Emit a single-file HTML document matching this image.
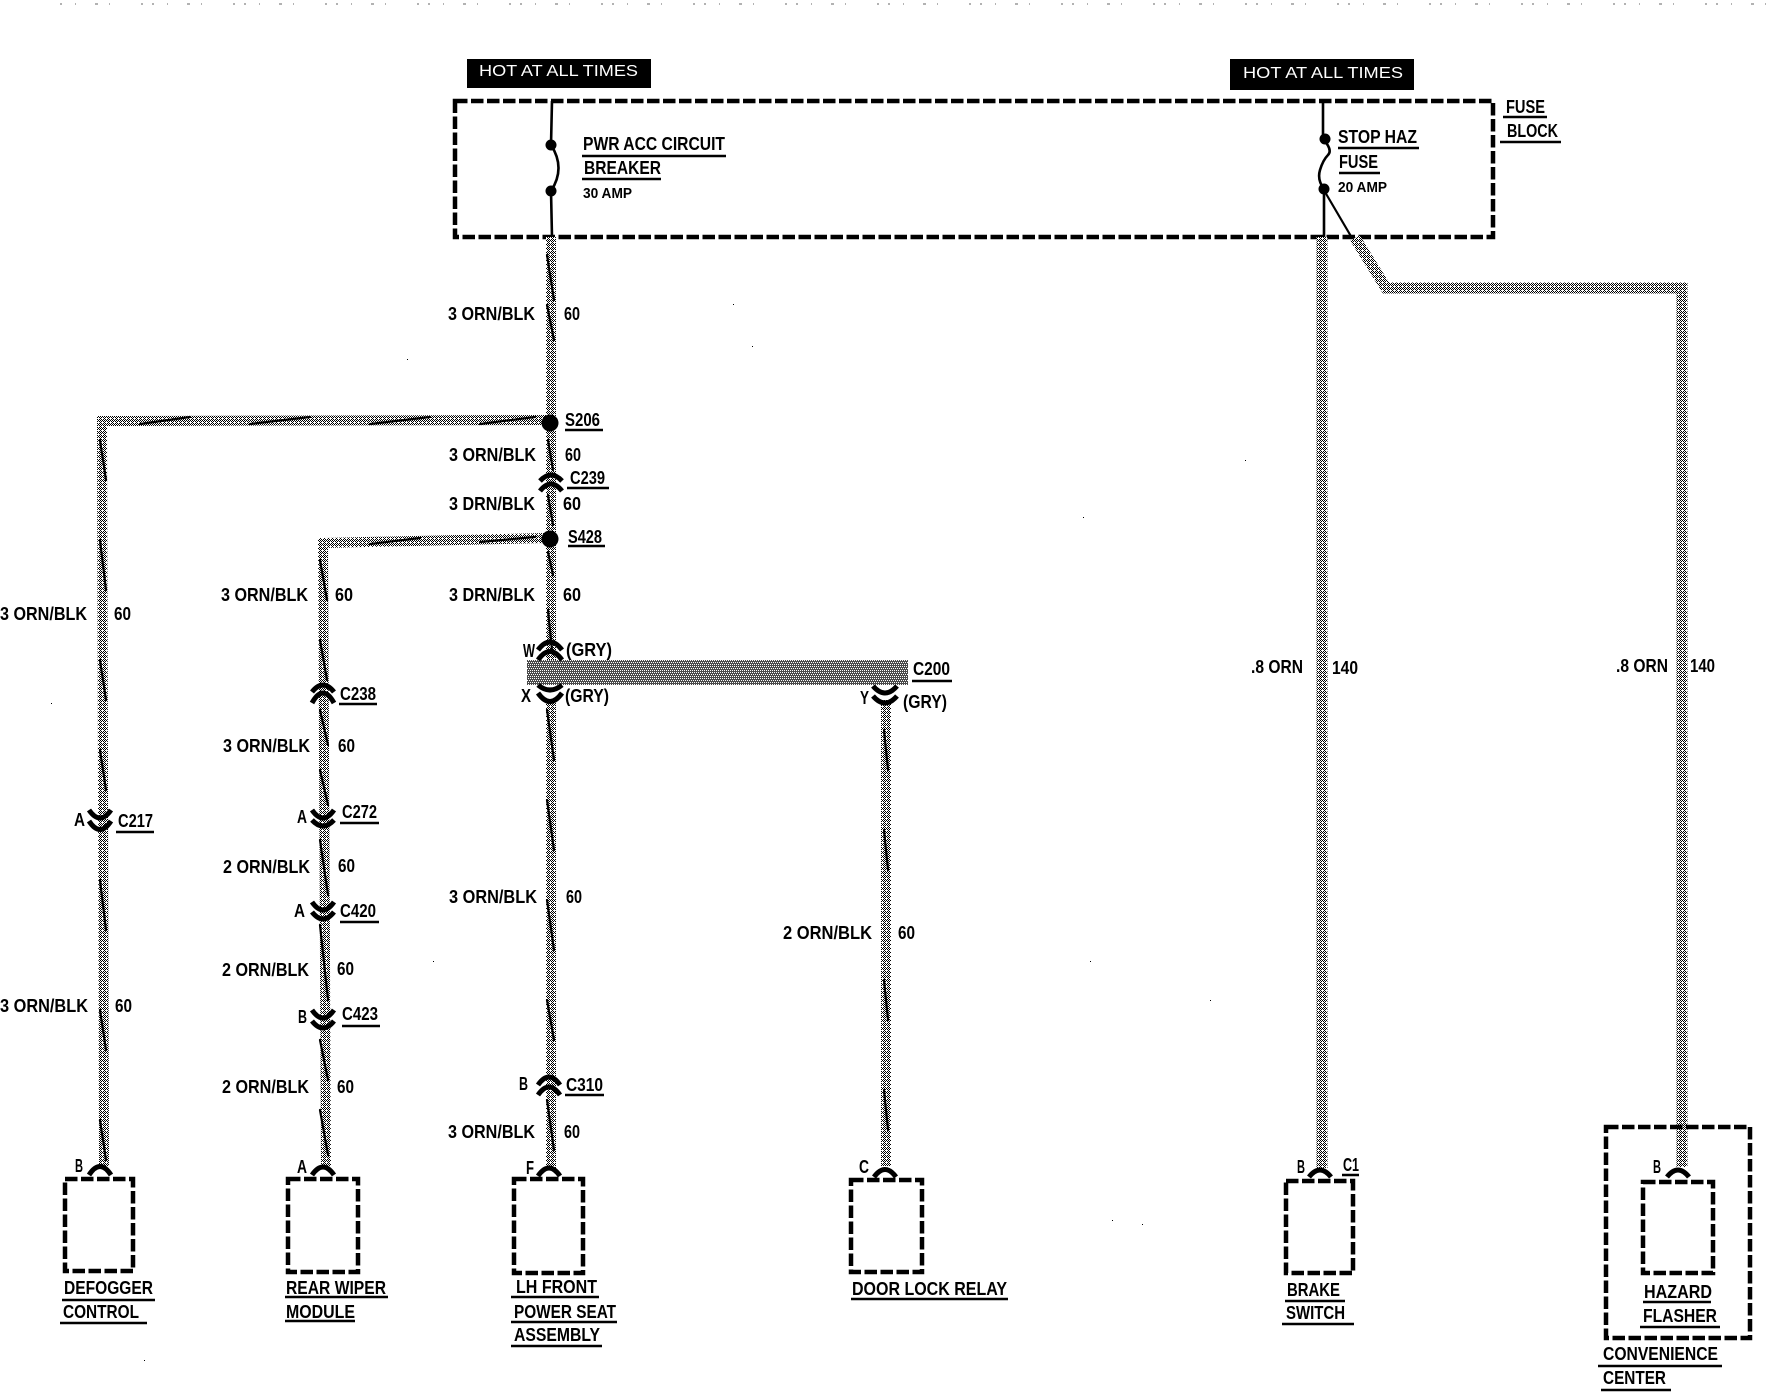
<!DOCTYPE html>
<html><head><meta charset="utf-8"><title>Wiring diagram</title>
<style>
html,body{margin:0;padding:0;background:#fff;width:1774px;height:1392px;overflow:hidden}
svg{display:block}
text{font-family:"Liberation Sans",sans-serif;font-weight:bold;font-size:18px;fill:#000}
.s{font-size:14.5px}
.w{fill:#fff;font-weight:normal;font-size:16px}
.u{stroke:#000;stroke-width:2.6;fill:none}
.a{stroke:#000;stroke-width:5;fill:none}
.b{stroke:#000;stroke-width:4.5;fill:none;stroke-dasharray:12.5 3.5}
.wire{stroke:url(#d);fill:none;stroke-width:10}
.st{stroke:#000;fill:none;stroke-width:2.2;stroke-linecap:round}
</style></head><body>
<svg width="1774" height="1392" viewBox="0 0 1774 1392" xmlns="http://www.w3.org/2000/svg">
<defs>
<pattern id="d" width="4" height="4" patternUnits="userSpaceOnUse">
<rect width="4" height="4" fill="#fff"/>
<rect x="0" y="0" width="1" height="1" fill="#000"/><rect x="2" y="0" width="1" height="1" fill="#000"/>
<rect x="1" y="1" width="1" height="1" fill="#000"/><rect x="3" y="1" width="1" height="1" fill="#000"/>
<rect x="0" y="2" width="1" height="1" fill="#000"/>
<rect x="1" y="3" width="1" height="1" fill="#000"/><rect x="3" y="3" width="1" height="1" fill="#000"/>
</pattern>
<pattern id="e" width="6" height="6" patternUnits="userSpaceOnUse">
<rect width="6" height="6" fill="#4a4a4a"/>
<rect x="0" y="0" width="1" height="1" fill="#fff"/><rect x="2" y="0" width="1" height="1" fill="#fff"/><rect x="4" y="0" width="1" height="1" fill="#fff"/>
<rect x="1" y="2" width="1" height="1" fill="#fff"/><rect x="3" y="2" width="1" height="1" fill="#fff"/><rect x="5" y="2" width="1" height="1" fill="#fff"/>
<rect x="0" y="4" width="1" height="1" fill="#fff"/><rect x="2" y="4" width="1" height="1" fill="#fff"/><rect x="4" y="4" width="1" height="1" fill="#fff"/>
</pattern>
</defs>

<!-- top scan noise -->
<path d="M60 4H1770" stroke="#666" stroke-width="1" stroke-dasharray="2 13 1 19 3 11 1 31 2 9" fill="none"/>

<!-- hot boxes -->
<rect x="467" y="59" width="184" height="29" fill="#000"/>
<text class="w" x="479" y="76" textLength="159" lengthAdjust="spacingAndGlyphs">HOT AT ALL TIMES</text>
<rect x="1230" y="59" width="184" height="31" fill="#000"/>
<text class="w" x="1243" y="78" textLength="160" lengthAdjust="spacingAndGlyphs">HOT AT ALL TIMES</text>

<!-- fuse block -->
<rect class="b" x="455" y="101" width="1038" height="136"/>
<path d="M552 101L551 145Q566 168 551 191L552 237" stroke="#000" stroke-width="2.6" fill="none"/>
<circle cx="551" cy="145" r="5.5"/><circle cx="551" cy="191" r="5.5"/>
<path d="M1323 101V139Q1333 150 1328 155T1320 170T1324 189V237" stroke="#000" stroke-width="2.6" fill="none"/>
<circle cx="1325" cy="139" r="5.5"/><circle cx="1324" cy="189" r="5.5"/>
<path d="M1325 192L1352 238" stroke="#000" stroke-width="2.2" fill="none"/>

<text x="583" y="150" textLength="142" lengthAdjust="spacingAndGlyphs">PWR ACC CIRCUIT</text>
<path class="u" d="M582 156H726"/>
<text x="584" y="174" textLength="77" lengthAdjust="spacingAndGlyphs">BREAKER</text>
<path class="u" d="M582 179H661"/>
<text class="s" x="583" y="198" textLength="49" lengthAdjust="spacingAndGlyphs">30 AMP</text>

<text x="1338" y="143" textLength="79" lengthAdjust="spacingAndGlyphs">STOP HAZ</text>
<path class="u" d="M1338 148H1419"/>
<text x="1339" y="168" textLength="39" lengthAdjust="spacingAndGlyphs">FUSE</text>
<path class="u" d="M1339 173H1380"/>
<text class="s" x="1338" y="192" textLength="49" lengthAdjust="spacingAndGlyphs">20 AMP</text>

<text x="1506" y="113" textLength="39" lengthAdjust="spacingAndGlyphs">FUSE</text>
<path class="u" d="M1503 117H1547"/>
<text x="1507" y="137" textLength="51" lengthAdjust="spacingAndGlyphs">BLOCK</text>
<path class="u" d="M1500 142H1561"/>

<!-- wires -->
<g class="wire">
<path d="M551 237V420"/>
<path d="M546 420L102 421L104 1166"/>
<path d="M551 430V540"/>
<path d="M546 538L323 543L326 1166"/>
<path d="M551 545V660"/>
<path d="M551 700V1168"/>
<path d="M886 700V1166"/>
<path d="M1322 237V1168" stroke-width="11"/>
<path d="M1355 238L1386 288H1682V1167" stroke-width="11"/>
</g>
<g class="st">
<path d="M547 255L554 300M547 305L554 340"/>
<path d="M548 440L553 470M548 495L553 525"/>
<path d="M548 552L553 575M548 610L552 650"/>
<path d="M547 710L554 760M547 800L554 850M547 900L554 950M547 1000L554 1040M547 1100L554 1150"/>
<path d="M100 440L106 480M100 540L106 590M100 660L106 700M100 750L106 790M100 880L106 930M100 1010L106 1050M100 1120L106 1160"/>
<path d="M320 560L327 600M320 640L327 680M320 710L328 745M320 770L328 805M320 840L328 895M320 925L328 1000M320 1040L328 1080M320 1110L328 1155"/>
<path d="M884 730L888 770M884 830L888 870M884 980L888 1020M884 1090L888 1130"/>
<path d="M535 417L480 424M430 417L370 424M310 417L250 424M190 417L140 424"/>
<path d="M535 537L480 542M420 538L370 544"/>
</g>
<rect x="527" y="660" width="381" height="25" fill="url(#e)"/>

<!-- splices -->
<circle cx="550" cy="423" r="8.5"/>
<circle cx="550" cy="539" r="8.5"/>
<text x="565" y="426" textLength="35" lengthAdjust="spacingAndGlyphs">S206</text>
<path class="u" d="M565 430H603"/>
<text x="568" y="543" textLength="34" lengthAdjust="spacingAndGlyphs">S428</text>
<path class="u" d="M568 546H605"/>

<!-- connectors: frown -->
<g class="a">
<path d="M540 481Q551 469 562 481"/><path d="M540 491Q551 477 562 491"/>
<path d="M538 650Q550 634 562 650"/><path d="M538 660Q550 643 562 660"/>
<path d="M312 692Q323 678 334 692"/><path d="M312 703Q323 683 334 703"/>
<path d="M538 1085Q549 1069 560 1085"/><path d="M538 1095Q549 1079 560 1095"/>
<!-- smile -->
<path d="M538 685Q550 695 562 685"/><path d="M538 693Q550 710 562 693"/>
<path d="M873 686Q885 700 897 686"/><path d="M873 696Q885 710 897 696"/>
<path d="M89 810Q100 826 111 810"/><path d="M89 821Q100 838 111 821"/>
<path d="M312 810Q323 826 334 810"/><path d="M312 820Q323 832 334 820"/>
<path d="M312 902Q323 918 334 902"/><path d="M312 912Q323 926 334 912"/>
<path d="M312 1010Q323 1026 334 1010"/><path d="M312 1021Q323 1035 334 1021"/>
<!-- terminals -->
<path d="M89 1175Q100 1158 111 1175"/>
<path d="M312 1175Q323 1159 334 1175"/>
<path d="M538 1176Q549 1160 560 1176"/>
<path d="M874 1177Q885 1162 896 1177"/>
<path d="M1309 1177Q1320 1163 1331 1177"/>
<path d="M1667 1177Q1678 1163 1689 1177"/>
</g>

<!-- connector labels -->
<text x="570" y="484" textLength="35" lengthAdjust="spacingAndGlyphs">C239</text><path class="u" d="M567 488H609"/>
<text x="340" y="700" textLength="36" lengthAdjust="spacingAndGlyphs">C238</text><path class="u" d="M339 704H377"/>
<text x="342" y="818" textLength="35" lengthAdjust="spacingAndGlyphs">C272</text><path class="u" d="M340 823H379"/>
<text x="340" y="917" textLength="36" lengthAdjust="spacingAndGlyphs">C420</text><path class="u" d="M340 922H379"/>
<text x="342" y="1020" textLength="36" lengthAdjust="spacingAndGlyphs">C423</text><path class="u" d="M342 1026H380"/>
<text x="118" y="827" textLength="35" lengthAdjust="spacingAndGlyphs">C217</text><path class="u" d="M116 832H154"/>
<text x="566" y="1091" textLength="37" lengthAdjust="spacingAndGlyphs">C310</text><path class="u" d="M565 1095H604"/>
<text x="913" y="675" textLength="37" lengthAdjust="spacingAndGlyphs">C200</text><path class="u" d="M912 681H952"/>
<text x="1343" y="1171" textLength="16" lengthAdjust="spacingAndGlyphs">C1</text><path class="u" d="M1342 1175H1359"/>

<text x="523" y="657" textLength="12" lengthAdjust="spacingAndGlyphs">W</text>
<text x="566" y="656" textLength="46" lengthAdjust="spacingAndGlyphs">(GRY)</text>
<text x="521" y="702" textLength="10" lengthAdjust="spacingAndGlyphs">X</text>
<text x="565" y="702" textLength="44" lengthAdjust="spacingAndGlyphs">(GRY)</text>
<text x="860" y="704" textLength="9" lengthAdjust="spacingAndGlyphs">Y</text>
<text x="903" y="708" textLength="44" lengthAdjust="spacingAndGlyphs">(GRY)</text>
<text x="74" y="826" textLength="11" lengthAdjust="spacingAndGlyphs">A</text>
<text x="297" y="823" textLength="10" lengthAdjust="spacingAndGlyphs">A</text>
<text x="294" y="917" textLength="11" lengthAdjust="spacingAndGlyphs">A</text>
<text x="298" y="1023" textLength="9" lengthAdjust="spacingAndGlyphs">B</text>
<text x="519" y="1090" textLength="9" lengthAdjust="spacingAndGlyphs">B</text>
<text x="75" y="1172" textLength="8" lengthAdjust="spacingAndGlyphs">B</text>
<text x="297" y="1173" textLength="10" lengthAdjust="spacingAndGlyphs">A</text>
<text x="526" y="1174" textLength="8" lengthAdjust="spacingAndGlyphs">F</text>
<text x="859" y="1173" textLength="10" lengthAdjust="spacingAndGlyphs">C</text>
<text x="1297" y="1173" textLength="8" lengthAdjust="spacingAndGlyphs">B</text>
<text x="1653" y="1173" textLength="8" lengthAdjust="spacingAndGlyphs">B</text>

<!-- wire labels -->
<text x="448" y="320" textLength="87" lengthAdjust="spacingAndGlyphs">3 ORN/BLK</text><text x="564" y="320" textLength="16" lengthAdjust="spacingAndGlyphs">60</text>
<text x="449" y="461" textLength="87" lengthAdjust="spacingAndGlyphs">3 ORN/BLK</text><text x="565" y="461" textLength="16" lengthAdjust="spacingAndGlyphs">60</text>
<text x="449" y="510" textLength="86" lengthAdjust="spacingAndGlyphs">3 DRN/BLK</text><text x="563" y="510" textLength="18" lengthAdjust="spacingAndGlyphs">60</text>
<text x="449" y="601" textLength="86" lengthAdjust="spacingAndGlyphs">3 DRN/BLK</text><text x="563" y="601" textLength="18" lengthAdjust="spacingAndGlyphs">60</text>
<text x="449" y="903" textLength="88" lengthAdjust="spacingAndGlyphs">3 ORN/BLK</text><text x="566" y="903" textLength="16" lengthAdjust="spacingAndGlyphs">60</text>
<text x="448" y="1138" textLength="87" lengthAdjust="spacingAndGlyphs">3 ORN/BLK</text><text x="564" y="1138" textLength="16" lengthAdjust="spacingAndGlyphs">60</text>

<text x="0" y="620" textLength="87" lengthAdjust="spacingAndGlyphs">3 ORN/BLK</text><text x="114" y="620" textLength="17" lengthAdjust="spacingAndGlyphs">60</text>
<text x="0" y="1012" textLength="88" lengthAdjust="spacingAndGlyphs">3 ORN/BLK</text><text x="115" y="1012" textLength="17" lengthAdjust="spacingAndGlyphs">60</text>

<text x="221" y="601" textLength="87" lengthAdjust="spacingAndGlyphs">3 ORN/BLK</text><text x="335" y="601" textLength="18" lengthAdjust="spacingAndGlyphs">60</text>
<text x="223" y="752" textLength="87" lengthAdjust="spacingAndGlyphs">3 ORN/BLK</text><text x="338" y="752" textLength="17" lengthAdjust="spacingAndGlyphs">60</text>
<text x="223" y="873" textLength="87" lengthAdjust="spacingAndGlyphs">2 ORN/BLK</text><text x="338" y="872" textLength="17" lengthAdjust="spacingAndGlyphs">60</text>
<text x="222" y="976" textLength="87" lengthAdjust="spacingAndGlyphs">2 ORN/BLK</text><text x="337" y="975" textLength="17" lengthAdjust="spacingAndGlyphs">60</text>
<text x="222" y="1093" textLength="87" lengthAdjust="spacingAndGlyphs">2 ORN/BLK</text><text x="337" y="1093" textLength="17" lengthAdjust="spacingAndGlyphs">60</text>

<text x="783" y="939" textLength="89" lengthAdjust="spacingAndGlyphs">2 ORN/BLK</text><text x="898" y="939" textLength="17" lengthAdjust="spacingAndGlyphs">60</text>
<text x="1251" y="673" textLength="52" lengthAdjust="spacingAndGlyphs">.8 ORN</text><text x="1332" y="674" textLength="26" lengthAdjust="spacingAndGlyphs">140</text>
<text x="1616" y="672" textLength="52" lengthAdjust="spacingAndGlyphs">.8 ORN</text><text x="1690" y="672" textLength="25" lengthAdjust="spacingAndGlyphs">140</text>

<!-- component boxes -->
<rect class="b" x="65" y="1179" width="68" height="92"/>
<rect class="b" x="288" y="1179" width="70" height="93"/>
<rect class="b" x="514" y="1179" width="69" height="94"/>
<rect class="b" x="851" y="1180" width="71" height="92"/>
<rect class="b" x="1286" y="1181" width="67" height="92"/>
<rect class="b" x="1643" y="1182" width="70" height="91"/>
<rect class="b" x="1606" y="1127" width="144" height="211"/>

<!-- component labels -->
<text x="64" y="1294" textLength="89" lengthAdjust="spacingAndGlyphs">DEFOGGER</text><path class="u" d="M62 1300H155"/>
<text x="63" y="1318" textLength="76" lengthAdjust="spacingAndGlyphs">CONTROL</text><path class="u" d="M60 1323H147"/>
<text x="286" y="1294" textLength="100" lengthAdjust="spacingAndGlyphs">REAR WIPER</text><path class="u" d="M285 1297H388"/>
<text x="286" y="1318" textLength="69" lengthAdjust="spacingAndGlyphs">MODULE</text><path class="u" d="M285 1321H355"/>
<text x="516" y="1293" textLength="81" lengthAdjust="spacingAndGlyphs">LH FRONT</text><path class="u" d="M511 1297H599"/>
<text x="514" y="1318" textLength="102" lengthAdjust="spacingAndGlyphs">POWER SEAT</text><path class="u" d="M511 1322H617"/>
<text x="514" y="1341" textLength="86" lengthAdjust="spacingAndGlyphs">ASSEMBLY</text><path class="u" d="M511 1346H602"/>
<text x="852" y="1295" textLength="155" lengthAdjust="spacingAndGlyphs">DOOR LOCK RELAY</text><path class="u" d="M851 1299H1008"/>
<text x="1287" y="1296" textLength="53" lengthAdjust="spacingAndGlyphs">BRAKE</text><path class="u" d="M1285 1301H1345"/>
<text x="1286" y="1319" textLength="59" lengthAdjust="spacingAndGlyphs">SWITCH</text><path class="u" d="M1282 1324H1354"/>
<text x="1644" y="1298" textLength="68" lengthAdjust="spacingAndGlyphs">HAZARD</text><path class="u" d="M1643 1302H1711"/>
<text x="1643" y="1322" textLength="74" lengthAdjust="spacingAndGlyphs">FLASHER</text><path class="u" d="M1640 1327H1720"/>
<text x="1603" y="1360" textLength="115" lengthAdjust="spacingAndGlyphs">CONVENIENCE</text><path class="u" d="M1598 1366H1722"/>
<text x="1603" y="1384" textLength="63" lengthAdjust="spacingAndGlyphs">CENTER</text><path class="u" d="M1601 1390H1671"/>

<!-- specks -->
<g fill="#000">
<rect x="733" y="304" width="1" height="1"/><rect x="752" y="346" width="1" height="1"/><rect x="407" y="359" width="1" height="1"/>
<rect x="1083" y="517" width="1" height="1"/><rect x="1245" y="460" width="1" height="1"/><rect x="51" y="703" width="1" height="1"/>
<rect x="433" y="961" width="1" height="1"/><rect x="1090" y="961" width="1" height="1"/><rect x="1210" y="1000" width="1" height="1"/>
<rect x="1112" y="1220" width="1" height="1"/><rect x="1142" y="1224" width="1" height="1"/><rect x="144" y="1360" width="1" height="1"/>
</g>
</svg>
</body></html>
